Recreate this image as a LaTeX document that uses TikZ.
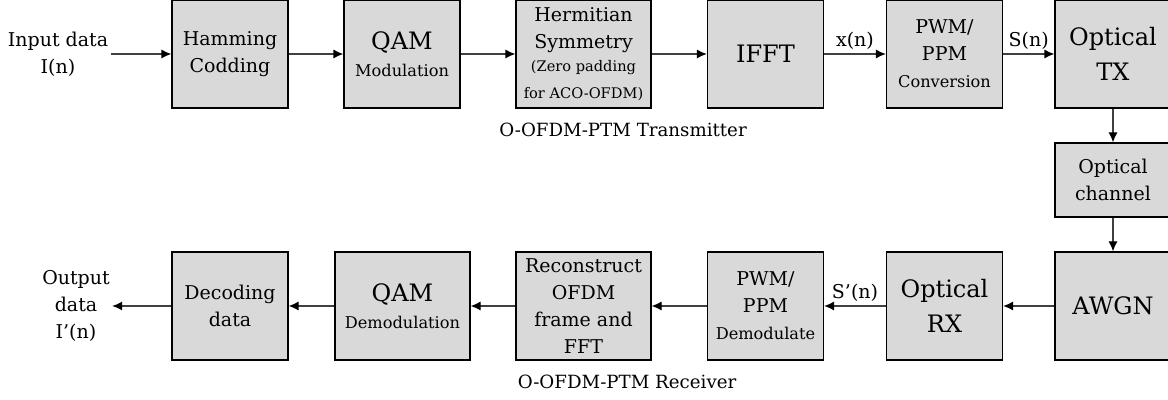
\documentclass[tikz,border=0pt]{standalone}
\usepackage{fontspec}
\setmainfont{DejaVu Serif}
\usetikzlibrary{arrows.meta}
\definecolor{boxgray}{HTML}{D9D9D9}
\definecolor{linkgray}{HTML}{404040}
\newcommand{\bigtxt}{\fontsize{12}{17.5}\selectfont}
\newcommand{\midtxt}{\fontsize{9.5}{13.5}\selectfont}
\newcommand{\smalltxt}{\fontsize{8.1}{11}\selectfont}
\newcommand{\tinytxt}{\fontsize{7.3}{11}\selectfont}

\begin{document}
\begin{tikzpicture}
  [x=0.5pt,y=-0.5pt,
   blk/.style={draw=black,fill=boxgray,line width=0.6pt,align=center,inner sep=0pt,
               minimum width=58pt,minimum height=54pt,font=\midtxt},
   lnk/.style={draw=linkgray,line width=0.6pt,-{Latex[length=5pt,width=4.5pt,color=black]}},
   txt/.style={align=center,font=\midtxt,inner sep=1pt}]
  \clip (0,0) rectangle (1168,400);

  % transmitter
  \node[txt] (in) at (58,54) {Input data\\I(n)};
  \node[blk] (ham) at (230,54) {Hamming\\Codding};
  \node[blk] (qam) at (402,54) {{\bigtxt QAM}\\{\smalltxt Modulation}};
  \node[blk,minimum width=67.5pt] (her) at (583.5,54) {Hermitian\\Symmetry\\[-2pt]{\tinytxt (Zero padding}\\{\tinytxt for ACO-OFDM)}};
  \node[blk] (ifft) at (765.5,54) {\bigtxt IFFT};
  \node[blk] (pwm) at (944.5,54) {PWM/\\PPM\\{\smalltxt Conversion}};
  \node[blk,font=\bigtxt] (otx) at (1113,54) {Optical\\TX};
  \node[txt,font=\fontsize{9.1}{13}\selectfont] (tcap) at (623,130) {O-OFDM-PTM Transmitter};

  % channel
  \node[blk,minimum height=37pt] (och) at (1113,180) {Optical\\channel};

  % receiver
  \node[blk] (awgn) at (1113,306) {\bigtxt AWGN};
  \node[blk,font=\bigtxt] (orx) at (944.5,306) {Optical\\RX};
  \node[blk] (pwd) at (765.5,306) {PWM/\\PPM\\{\smalltxt Demodulate}};
  \node[blk,minimum width=67.5pt] (rec) at (583.5,306) {Reconstruct\\OFDM\\frame and\\FFT};
  \node[blk,minimum width=67.5pt] (qad) at (402.5,306) {{\bigtxt QAM}\\{\smalltxt Demodulation}};
  \node[blk] (dec) at (230,306) {Decoding\\data};
  \node[txt] (out) at (76,306) {Output\\data\\I’(n)};
  \node[txt,font=\fontsize{9.1}{13}\selectfont] (rcap) at (627,382) {O-OFDM-PTM Receiver};

  \foreach \from/\to in {in/ham,ham/qam,qam/her,her/ifft,otx/och,och/awgn,awgn/orx,pwd/rec,rec/qad,qad/dec,dec/out}
    \draw[lnk] (\from) -- (\to);
  \draw[lnk] (ifft) -- node[txt,above=1pt] {x(n)} (pwm);
  \draw[lnk] (pwm) -- node[txt,above=1pt] {S(n)} (otx);
  \draw[lnk] (orx) -- node[txt,above=1pt] {S’(n)} (pwd);

\end{tikzpicture}
\end{document}
